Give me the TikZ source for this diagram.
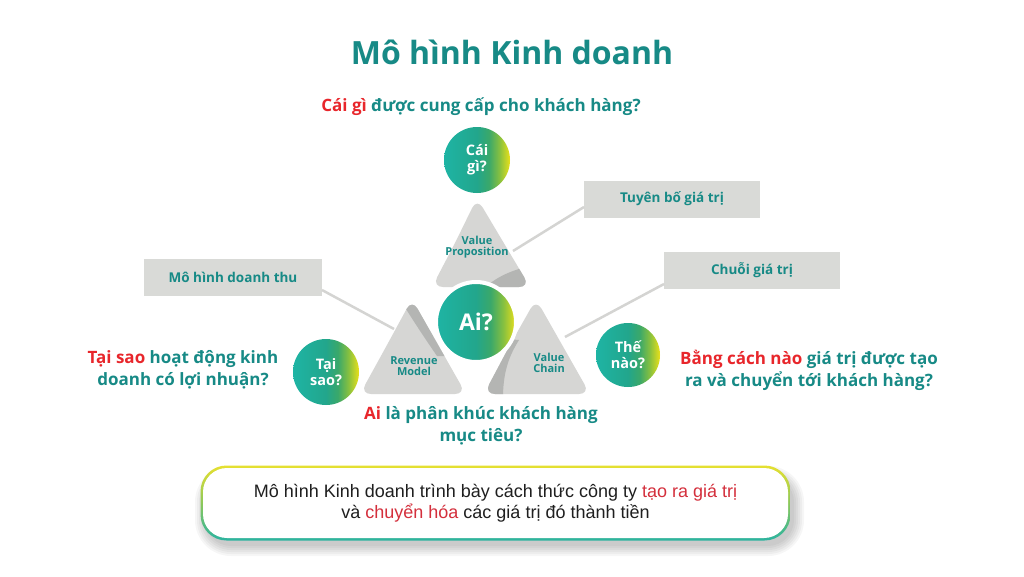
\documentclass[tikz,border=0pt]{standalone}
\usepackage{fontspec}
\setmainfont{Open Sans}
\newfontfamily\bodyfont{Liberation Sans}
\usetikzlibrary{calc}
\definecolor{tealtxt}{HTML}{178A86}
\definecolor{redtxt}{HTML}{E8262B}
\definecolor{redbody}{HTML}{D42F3C}
\definecolor{boxgray}{HTML}{D9DAD7}
\definecolor{trigray}{HTML}{D6D6D4}
\definecolor{tridark}{HTML}{B4B5B3}
\definecolor{linegray}{HTML}{D4D4D2}
\definecolor{cT}{HTML}{1EB4A4}
\definecolor{cT2}{HTML}{22A68C}
\definecolor{cG}{HTML}{3AA86A}
\definecolor{cG2}{HTML}{86C040}
\definecolor{cY}{HTML}{EAE01A}
\definecolor{bY}{HTML}{E6E030}
\definecolor{bG}{HTML}{8CC85A}
\definecolor{bT}{HTML}{2BB3A0}
\pgfdeclarehorizontalshading{circsh}{100bp}{color(0bp)=(cT); color(25bp)=(cT); color(50bp)=(cT2); color(59bp)=(cG); color(67bp)=(cG2); color(75bp)=(cY); color(100bp)=(cY)}
\pgfdeclareverticalshading{bordersh}{100bp}{color(0bp)=(bT); color(25bp)=(bT); color(50bp)=(bG); color(75bp)=(bY); color(100bp)=(bY)}
\tikzset{
  qcircle/.style={circle, shading=circsh, text=white, font=\bfseries\fontsize{14.5}{16}\selectfont, align=center, inner sep=0pt},
  graybox/.style={fill=boxgray, text=tealtxt, font=\bfseries\fontsize{13.5}{16}\selectfont, minimum height=37pt, inner sep=0pt},
  trilabel/.style={text=tealtxt, font=\bfseries\fontsize{11}{13}\selectfont, align=center},
  question/.style={text=tealtxt, font=\bfseries\fontsize{17}{22}\selectfont, align=center},
  conn/.style={draw=linegray, line width=2.5pt},
  trishape/.style={fill=trigray, rounded corners=11pt},
}
\begin{document}
\begin{tikzpicture}[x=1pt,y=-1pt]
\useasboundingbox (0,0) rectangle (1024,576);
\fill[white] (0,0) rectangle (1024,576);

% title
\node[text=tealtxt, font=\bfseries\fontsize{32}{36}\selectfont] (title) at (512,52) {Mô hình Kinh doanh};

% gray boxes
\node[graybox, minimum width=176pt] (tuyen) at (672,199) {Tuyên bố giá trị};
\node[graybox, minimum width=178pt] (mohinh) at (233,277) {Mô hình doanh thu};
\node[graybox, minimum width=176pt] (chuoi) at (752,270) {Chuỗi giá trị};

% connector end points on triangles
\coordinate (vpE) at (513,251);
\coordinate (rmE) at (394,329);
\coordinate (vcE) at (565,337);
\coordinate (tuyenE) at (584,207);
\coordinate (mohinhE) at (322,290);
\coordinate (chuoiE) at (664,284);
\draw[conn] (vpE) -- (tuyenE);
\draw[conn] (rmE) -- (mohinhE);
\draw[conn] (vcE) -- (chuoiE);

% Value Proposition triangle
\path[trishape] (455,243) -- (432,287) -- (530,287) -- (477,198) -- cycle;
\begin{scope}
\clip[rounded corners=11pt] (455,243) -- (432,287) -- (530,287) -- (477,198) -- cycle;
\fill[tridark] (480,292) .. controls (492,280) and (506,272) .. (526,267) -- (545,267) -- (545,295) -- cycle;
\end{scope}
\node[trilabel] (vpT) at (477,247) {Value\\[-2pt]Proposition};

% Revenue Model triangle
\path[trishape] (387,345) -- (360,394) -- (466,394) -- (412,299) -- cycle;
\begin{scope}
\clip[rounded corners=11pt] (387,345) -- (360,394) -- (466,394) -- (412,299) -- cycle;
\fill[tridark] (402,292) -- (406,309) .. controls (416,325) and (426,340) .. (437,356) -- (475,356) -- (475,290) -- cycle;
\end{scope}
\node[trilabel] (rmT) at (414,366) {Revenue\\[-2pt]Model};

% Value Chain triangle
\path[trishape] (510,345) -- (484,394) -- (590,394) -- (536,299) -- cycle;
\begin{scope}
\clip[rounded corners=11pt] (510,345) -- (484,394) -- (590,394) -- (536,299) -- cycle;
\fill[tridark] (519,340) .. controls (509,356) and (503,372) .. (503,398) -- (470,398) -- (470,336) -- cycle;
\end{scope}
\node[trilabel] (vcT) at (549,363) {Value\\[-2pt]Chain};

% circles
\node[qcircle, minimum size=66pt] (caigi) at (477,160) {Cái\\gì?};
\node[qcircle, minimum size=80pt, draw=white, line width=4pt, font=\bfseries\fontsize{23}{24}\selectfont] (ai) at (476,322) {Ai?};
\node[qcircle, minimum size=66pt] (taisao) at (326,372) {Tại\\sao?};
\node[qcircle, minimum size=64pt] (thenao) at (628,355) {Thế\\nào?};

% questions
\node[question] (qtop) at (481,107) {\textcolor{redtxt}{Cái gì} được cung cấp cho khách hàng?};
\node[question] (qleft) at (183,370) {\textcolor{redtxt}{Tại sao} hoạt động kinh\\doanh có lợi nhuận?};
\node[question] (qright) at (809,370) {\textcolor{redtxt}{Bằng cách nào} giá trị được tạo\\ra và chuyển tới khách hàng?};
\node[question] (qbot) at (481,426) {\textcolor{redtxt}{Ai} là phân khúc khách hàng\\mục tiêu?};

% soft shadow of the summary box
\foreach \s in {0,2,4,6,8,10}{
  \fill[black, opacity=0.035, rounded corners=26pt+\s pt] (201-\s+4,466-\s+10) rectangle (790+\s+4,540+\s+6);
}
% bottom summary box
\node[rounded corners=26pt, minimum width=590pt, minimum height=75pt, shading=bordersh, inner sep=0pt] (sumframe) at (495.5,503) {};
\node[rounded corners=24pt, minimum width=585pt, minimum height=70pt, fill=white, inner sep=0pt] (suminner) at (495.5,503) {};
\node[font=\bodyfont\fontsize{18}{21}\selectfont, text=black!88, align=center] (sumtext) at (sumframe.center)
  {Mô hình Kinh doanh trình bày cách thức công ty \textcolor{redbody}{tạo ra giá trị}\\và \textcolor{redbody}{chuyển hóa} các giá trị đó thành tiền};
\end{tikzpicture}
\end{document}
